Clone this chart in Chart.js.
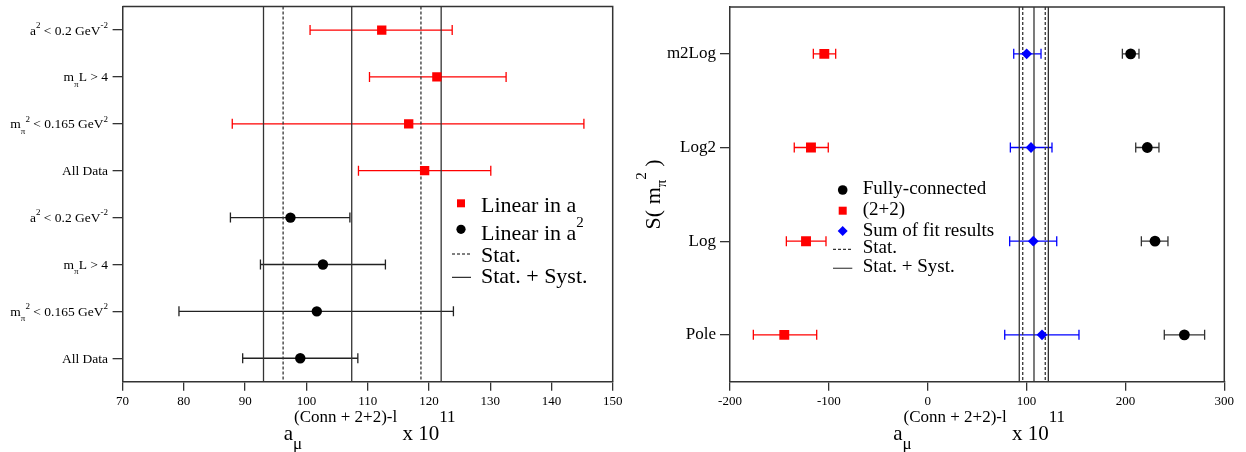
<!DOCTYPE html>
<html><head><meta charset="utf-8">
<script src="https://cdn.jsdelivr.net/npm/chart.js@4.4.1/dist/chart.umd.min.js"></script>
<style>
html,body{margin:0;padding:0;background:#fff;width:1246px;height:452px;overflow:hidden}
#l{position:absolute;left:0;top:0;z-index:2}
#r{position:absolute;left:620px;top:0;z-index:1}
</style>
</head><body>
<canvas id="l" width="640" height="452"></canvas>
<canvas id="r" width="626" height="452"></canvas>
<script>
// ---------------- DATA ----------------
// Left panel categories (top to bottom)
const leftCategories = [
  'a^{2} < 0.2 GeV^{-2}', 'm_{π}L > 4', 'm_{π}^{2} < 0.165 GeV^{2}', 'All Data',
  'a^{2} < 0.2 GeV^{-2}', 'm_{π}L > 4', 'm_{π}^{2} < 0.165 GeV^{2}', 'All Data'
];
const leftXTicks = [70, 80, 90, 100, 110, 120, 130, 140, 150];
// Linear in a (rows 0-3)
const linARows = [0, 1, 2, 3];
const linAValue = [112.3, 121.3, 116.7, 119.3];
const linALow   = [100.6, 110.3, 87.9, 108.5];
const linAHigh  = [123.8, 132.6, 145.3, 130.1];
// Linear in a^2 (rows 4-7)
const linA2Rows = [4, 5, 6, 7];
const linA2Value = [97.4, 102.7, 101.7, 99.0];
const linA2Low   = [87.6, 92.5, 79.2, 89.6];
const linA2High  = [107.1, 112.9, 124.0, 108.4];
// Reference bands (left)
const leftStat = [96.2, 118.7];
const leftStatSyst = [93.0, 122.0];
const leftCentral = [107.4];

// Right panel
const rightCategories = ['m2Log', 'Log2', 'Log', 'Pole'];
const rightXTicks = [-200, -100, 0, 100, 200, 300];
const fullyValue = [205.3, 222.1, 229.9, 259.6];
const fullyLow   = [196.9, 210.4, 216.1, 239.3];
const fullyHigh  = [213.7, 233.9, 243.0, 280.1];
const twoValue = [-104.6, -118.1, -123.1, -145.1];
const twoLow   = [-115.7, -135.0, -143.0, -176.4];
const twoHigh  = [-93.1, -100.6, -102.9, -112.3];
const sumValue = [100.1, 104.5, 106.8, 115.6];
const sumLow   = [87.0, 83.6, 82.9, 77.9];
const sumHigh  = [114.6, 125.7, 130.5, 153.0];
const rightStat = [96.1, 118.9];
const rightStatSyst = [92.6, 122.0];
const rightCentral = [107.5];

const xTitle = 'a_{μ}^{(Conn + 2+2)-l} x 10^{11}';
const yTitleRight = 'S( m_{π}^{2} )';

// ---------------- HELPERS ----------------
const SERIF = "'Liberation Serif','DejaVu Serif',serif";
const AXIS = '#333';

function parseRich(s){
  const segs=[]; const re=/([_^])\{([^}]*)\}/g; let last=0,m;
  while((m=re.exec(s))){
    if(m.index>last) segs.push({t:s.slice(last,m.index),m:0});
    segs.push({t:m[2],m:m[1]==='^'?1:-1});
    last=re.lastIndex;
  }
  if(last<s.length) segs.push({t:s.slice(last),m:0});
  return segs;
}
function drawRich(ctx,str,x,y,size,align,o){
  o=Object.assign({small:Math.round(size*0.68),supDy:-0.55,subDy:0.4,stack:false,supGap:0},o||{});
  const segs=parseRich(str); const items=[]; let cx=0; let last=null;
  for(const s of segs){
    const fs=s.m?o.small:size; ctx.font=fs+'px '+SERIF;
    const w=ctx.measureText(s.t).width; let sx=cx;
    if(s.m===1) sx+=o.supGap;
    if(o.stack && s.m===1 && last && last.m===-1) sx=last.x+1;
    const it={t:s.t,m:s.m,x:sx,fs,w}; items.push(it);
    cx=Math.max(cx,sx+w); last=it;
  }
  const total=cx; const ox = align==='right'? x-total : align==='center'? x-total/2 : x;
  ctx.textAlign='left'; ctx.textBaseline='alphabetic';
  for(const it of items){
    ctx.font=it.fs+'px '+SERIF;
    const dy = it.m===1? size*o.supDy : it.m===-1? size*o.subDy : 0;
    ctx.fillText(it.t, ox+it.x, y+dy);
  }
}
function err(rows,lo,hi){ return rows.map((r,i)=>({y:r,lo:lo[i],hi:hi[i]})); }
function pts(rows,vals){ return rows.map((r,i)=>({x:vals[i],y:r})); }
function vline(v,n,dash){ return {data:[{x:v,y:-0.5},{x:v,y:n-0.5}],showLine:true,pointRadius:0,borderColor:'#333',borderWidth:1.3,borderDash:dash?[3,2]:[],order:10}; }

const errorBars = { id:'errorBars', beforeDatasetsDraw(chart){
  const {ctx, scales:{x,y}} = chart;
  chart.data.datasets.forEach(ds=>{
    if(!ds.err) return;
    ctx.save(); ctx.strokeStyle=ds.errColor; ctx.lineWidth=1.3;
    ds.err.forEach(e=>{
      const py=y.getPixelForValue(e.y), x1=x.getPixelForValue(e.lo), x2=x.getPixelForValue(e.hi);
      ctx.beginPath(); ctx.moveTo(x1,py); ctx.lineTo(x2,py);
      ctx.moveTo(x1,py-5); ctx.lineTo(x1,py+5); ctx.moveTo(x2,py-5); ctx.lineTo(x2,py+5); ctx.stroke();
    });
    ctx.restore();
  });
}};
const frame = { id:'frame', afterDraw(chart){
  const {ctx, chartArea:a} = chart; ctx.save(); ctx.strokeStyle=AXIS; ctx.lineWidth=1.5;
  ctx.beginPath(); ctx.moveTo(a.left,a.top); ctx.lineTo(a.right,a.top); ctx.lineTo(a.right,a.bottom); ctx.stroke(); ctx.restore();
}};
function zeroPad(s){ s.paddingTop=0; s.paddingBottom=0; s.paddingLeft=0; s.paddingRight=0; }

function baseOptions(cfg){
  return {
    responsive:false, animation:false, devicePixelRatio:1,
    layout:{padding:{top:5,right:cfg.padRight,left:0,bottom:0}},
    plugins:{legend:{display:false},tooltip:{enabled:false}},
    scales:{
      x:{type:'linear',min:cfg.xTicks[0],max:cfg.xTicks[cfg.xTicks.length-1],
        afterBuildTicks(s){ s.ticks=cfg.xTicks.map(v=>({value:v})); },
        ticks:{color:'#000',font:{family:SERIF,size:13},padding:3,maxRotation:0,autoSkip:false,callback:v=>String(v)},
        grid:{drawOnChartArea:false,drawTicks:true,tickLength:9,color:AXIS,lineWidth:1.3},
        border:{display:true,color:AXIS,width:1.5},
        afterFit(s){ s.height=70.3; zeroPad(s); }},
      y:{type:'linear',reverse:true,min:-0.5,max:cfg.cats.length-0.5,
        afterBuildTicks(s){ s.ticks=cfg.cats.map((c,i)=>({value:i})); },
        ticks:{display:cfg.yLabels,color:'#000',font:{family:SERIF,size:17},padding:4,autoSkip:false,callback:v=>cfg.cats[v]},
        grid:{drawOnChartArea:false,drawTicks:true,tickLength:10,color:AXIS,lineWidth:1.3},
        border:{display:true,color:AXIS,width:1.5},
        afterFit(s){ s.width=cfg.yWidth; zeroPad(s); }}
    }
  };
}
const titleOpts = {small:17,supDy:-0.85,subDy:0.42,stack:true};

// ---------------- LEFT CHART ----------------
const leftDecor = { id:'leftDecor', afterDraw(chart){
  const {ctx, chartArea:a, scales:{y}} = chart; ctx.save(); ctx.fillStyle='#000';
  leftCategories.forEach((c,i)=>{ drawRich(ctx,c,108,y.getPixelForValue(i)+4.5,13.5,'right',{small:9,supDy:-0.5,subDy:0.4}); });
  drawRich(ctx,xTitle,(a.left+a.right)/2+2,440,21,'center',titleOpts);
  // legend
  ctx.fillStyle='#ff0000'; ctx.fillRect(457,199.3,8,8);
  ctx.fillStyle='#000'; ctx.beginPath(); ctx.arc(461,229.3,4.6,0,Math.PI*2); ctx.fill();
  ctx.strokeStyle='#000'; ctx.lineWidth=1; ctx.setLineDash([3,2]);
  ctx.beginPath(); ctx.moveTo(452,254); ctx.lineTo(471,254); ctx.stroke(); ctx.setLineDash([]);
  ctx.beginPath(); ctx.moveTo(452,277.3); ctx.lineTo(471,277.3); ctx.stroke();
  drawRich(ctx,'Linear in a',481,211.7,22,'left');
  drawRich(ctx,'Linear in a^{2}',481,240,22,'left',{small:15,supDy:-0.6});
  drawRich(ctx,'Stat.',481,261.7,22,'left');
  drawRich(ctx,'Stat. + Syst.',481,282.7,22,'left');
  ctx.restore();
}};
const lOpts = baseOptions({cats:leftCategories,xTicks:leftXTicks,padRight:27.3,yWidth:122.6,yLabels:false});
new Chart(document.getElementById('l'),{
  type:'scatter',
  data:{datasets:[
    {data:pts(linARows,linAValue),pointStyle:'rect',pointRadius:6.6,backgroundColor:'#ff0000',borderWidth:0,err:err(linARows,linALow,linAHigh),errColor:'#ff0000',order:0},
    {data:pts(linA2Rows,linA2Value),pointStyle:'circle',pointRadius:5.2,backgroundColor:'#000',borderWidth:0,err:err(linA2Rows,linA2Low,linA2High),errColor:'#222',order:0},
    ...leftStat.map(v=>vline(v,leftCategories.length,true)),
    ...leftStatSyst.map(v=>vline(v,leftCategories.length,false)),
    ...leftCentral.map(v=>vline(v,leftCategories.length,false))
  ]},
  options:lOpts,
  plugins:[errorBars,frame,leftDecor]
});

// ---------------- RIGHT CHART ----------------
const rightDecor = { id:'rightDecor', afterDraw(chart){
  const {ctx, chartArea:a} = chart; ctx.save(); ctx.fillStyle='#000';
  drawRich(ctx,xTitle,(a.left+a.right)/2+2,440,21,'center',titleOpts);
  ctx.save(); ctx.translate(660-620,(a.top+a.bottom)/2); ctx.rotate(-Math.PI/2);
  drawRich(ctx,yTitleRight,0,0,22,'center',{small:15,supDy:-0.65,subDy:0.25});
  ctx.restore();
  const ox=-620;
  // legend markers
  ctx.fillStyle='#000'; ctx.beginPath(); ctx.arc(842.7+ox,190,4.8,0,Math.PI*2); ctx.fill();
  ctx.fillStyle='#ff0000'; ctx.fillRect(838.7+ox,206.7,8,8);
  ctx.fillStyle='#0000ff'; ctx.beginPath(); ctx.moveTo(842.7+ox,226); ctx.lineTo(847.7+ox,231); ctx.lineTo(842.7+ox,236); ctx.lineTo(837.7+ox,231); ctx.closePath(); ctx.fill();
  ctx.strokeStyle='#000'; ctx.lineWidth=1; ctx.setLineDash([3,2]);
  ctx.beginPath(); ctx.moveTo(833+ox,249.3); ctx.lineTo(852.3+ox,249.3); ctx.stroke(); ctx.setLineDash([]);
  ctx.strokeStyle='#555'; ctx.lineWidth=1.3;
  ctx.beginPath(); ctx.moveTo(833+ox,268.3); ctx.lineTo(852.3+ox,268.3); ctx.stroke();
  ctx.fillStyle='#000';
  drawRich(ctx,'Fully-connected',862.7+ox,194,19,'left');
  drawRich(ctx,'(2+2)',862.7+ox,215,19,'left');
  drawRich(ctx,'Sum of fit results',862.7+ox,235.7,19,'left');
  drawRich(ctx,'Stat.',862.7+ox,253.3,19,'left');
  drawRich(ctx,'Stat. + Syst.',862.7+ox,271.7,19,'left');
  ctx.restore();
}};
const rRows=[0,1,2,3];
const rOpts = baseOptions({cats:rightCategories,xTicks:rightXTicks,padRight:21.7,yWidth:110,yLabels:true});
new Chart(document.getElementById('r'),{
  type:'scatter',
  data:{datasets:[
    {data:pts(rRows,fullyValue),pointStyle:'circle',pointRadius:5.4,backgroundColor:'#000',borderWidth:0,err:err(rRows,fullyLow,fullyHigh),errColor:'#333',order:0},
    {data:pts(rRows,twoValue),pointStyle:'rect',pointRadius:7,backgroundColor:'#ff0000',borderWidth:0,err:err(rRows,twoLow,twoHigh),errColor:'#ff0000',order:0},
    {data:pts(rRows,sumValue),pointStyle:'rectRot',pointRadius:5.4,backgroundColor:'#0000ff',borderWidth:0,err:err(rRows,sumLow,sumHigh),errColor:'#0000ff',order:0},
    ...rightStat.map(v=>vline(v,rightCategories.length,true)),
    ...rightStatSyst.map(v=>vline(v,rightCategories.length,false)),
    ...rightCentral.map(v=>vline(v,rightCategories.length,false))
  ]},
  options:rOpts,
  plugins:[errorBars,frame,rightDecor]
});
</script>
</body></html>
